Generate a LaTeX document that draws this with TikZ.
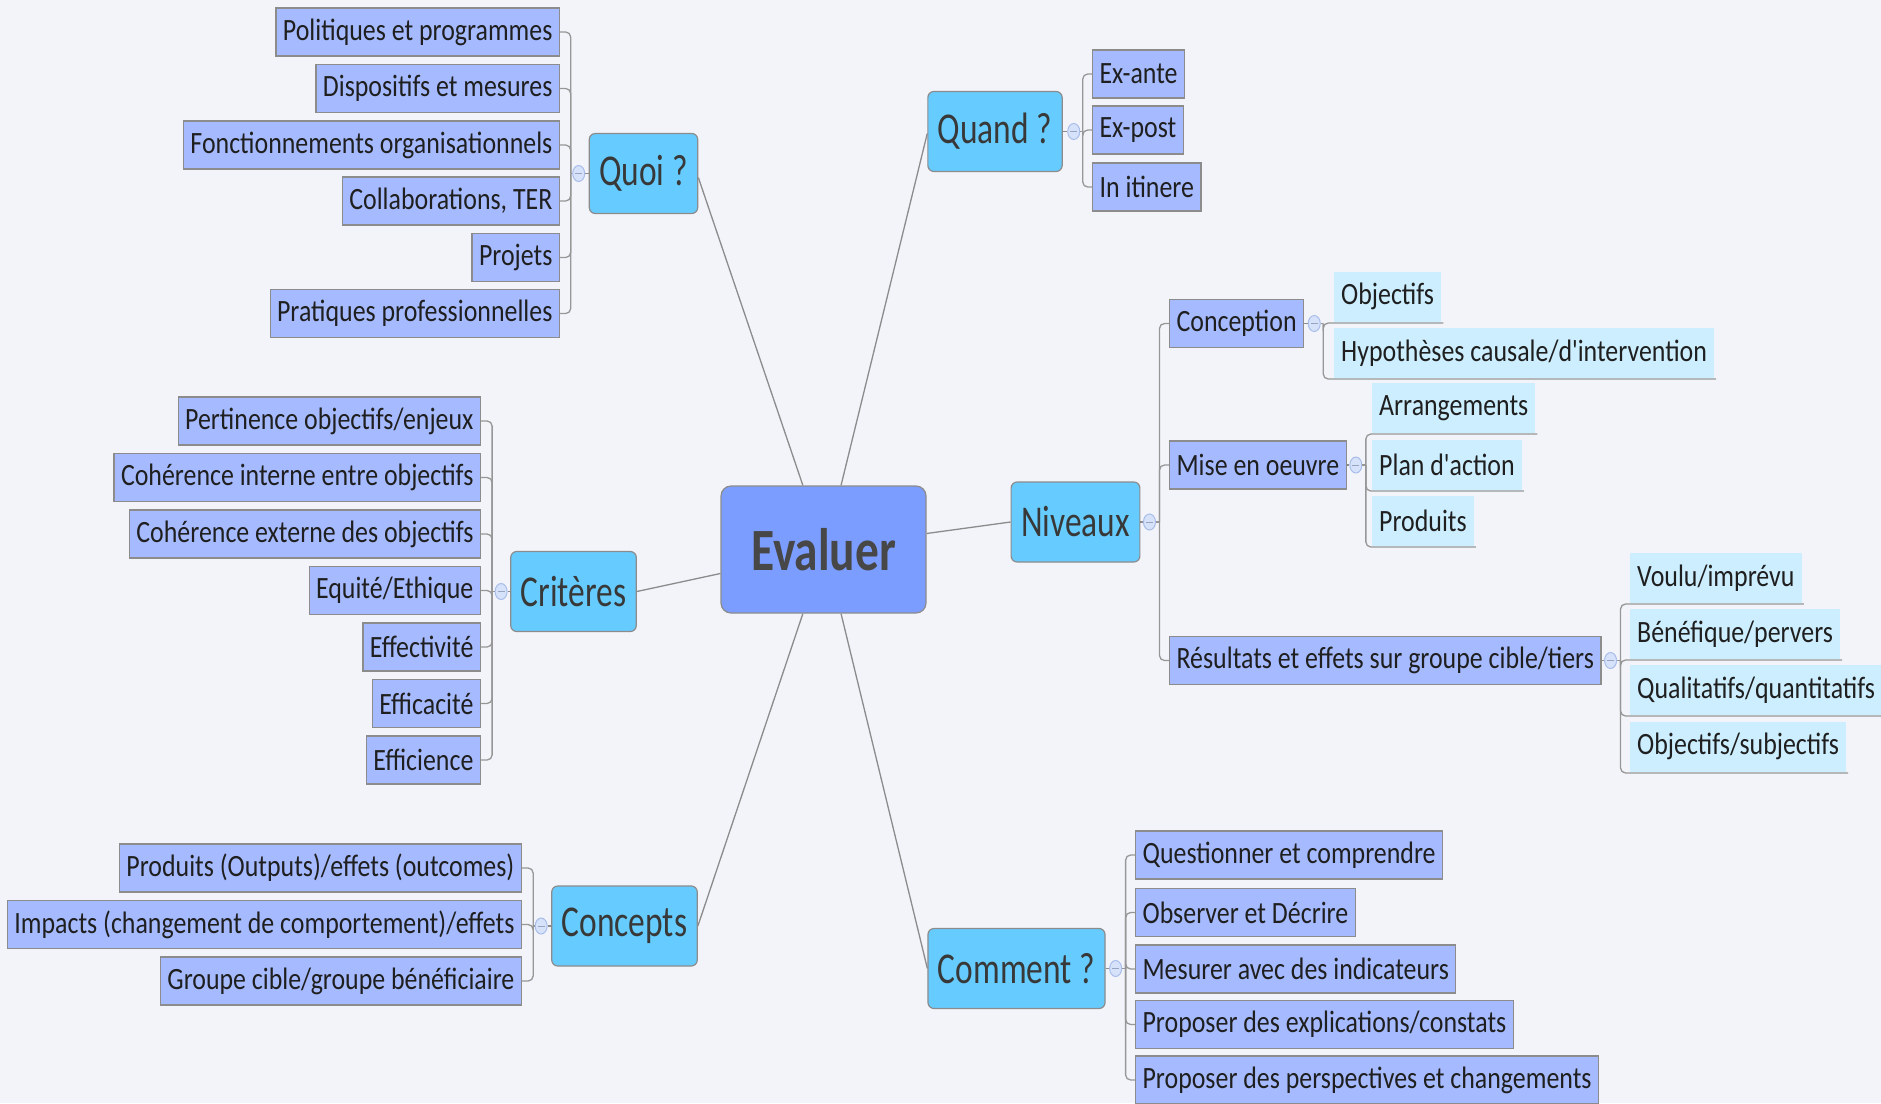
\documentclass[tikz,border=0pt]{standalone}
\usepackage{fontspec}
\setmainfont{Carlito}
\newfontfamily\kidfont[FakeStretch=0.835,Ligatures=TeXOff]{Carlito}
\newfontfamily\topfont[FakeStretch=0.76]{Carlito}
\newfontfamily\evfont[FakeStretch=0.79]{Carlito}
\usetikzlibrary{calc,shapes.geometric}
\definecolor{bg}{HTML}{F2F4F9}
\definecolor{kidfill}{HTML}{A6BBFF}
\definecolor{topfill}{HTML}{66CCFF}
\definecolor{evfill}{HTML}{7B9DFF}
\definecolor{leaffill}{HTML}{CCEEFF}
\definecolor{edgegray}{HTML}{8C8C8C}
\definecolor{dotfill}{HTML}{D6E1FA}
\definecolor{dotline}{HTML}{A9BDEB}
\tikzset{
  kid/.style={draw=edgegray, line width=1.2pt, fill=kidfill, text=black!88,
    font=\kidfont\fontsize{31}{36}\selectfont, inner xsep=7pt, inner ysep=0pt,
    minimum height=48pt},
  leaf/.style={fill=leaffill, text=black!88,
    font=\kidfont\fontsize{31}{36}\selectfont, inner xsep=7pt, inner ysep=0pt,
    minimum height=50pt},
  topbox/.style={draw=edgegray, line width=1.2pt, fill=topfill, rounded corners=6pt,
    text=black!78, font=\topfont\fontsize{44}{50}\selectfont, inner xsep=10pt,
    inner ysep=0pt, minimum height=80pt},
  evbox/.style={draw=edgegray, line width=1.2pt, fill=evfill, rounded corners=10pt,
    text=black!72, font=\evfont\bfseries\fontsize{60}{68}\selectfont,
    minimum width=205pt, minimum height=127pt},
  link/.style={draw=edgegray, line width=1.3pt},
  brk/.style={draw=edgegray!90, line width=1.3pt, rounded corners=5pt},
  dotc/.style={ellipse, draw=dotline, fill=dotfill, line width=1pt,
    minimum width=12pt, minimum height=16pt, inner sep=0pt,
    path picture={\draw[dotline!60!gray, line width=0.9pt]
      ($(path picture bounding box.center)+(-3.5pt,0)$) --
      ($(path picture bounding box.center)+(3.5pt,0)$);}}
}
\begin{document}
\begin{tikzpicture}[x=1pt,y=-1pt]
\useasboundingbox (0,0) rectangle (1881,1103);
\fill[bg] (0,0) rectangle (1881,1103);
\clip (0,0) rectangle (1881,1103);

% central
\node[evbox] (ev) at (823.5,549.5) {Evaluer};

% level 1
\node[topbox, minimum width=107pt] (quoi) at (643.5,173.5) {Quoi ?};
\node[topbox, minimum width=132pt] (quand) at (995,131.5) {Quand ?};
\node[topbox, minimum width=127pt] (niv) at (1075.5,522) {Niveaux};
\node[topbox, minimum width=125pt] (crit) at (573.5,591.5) {Critères};
\node[topbox, minimum width=145pt] (conc) at (624.5,926) {Concepts};
\node[topbox, minimum width=175pt] (comm) at (1016.5,968.5) {Comment ?};

% central links
\draw[link] ($(ev.north west)!0.4!(ev.north east)$) -- ($(quoi.east)+(0,4)$);
\draw[link] ($(ev.north west)!0.585!(ev.north east)$) -- ($(quand.west)+(0,2)$);
\draw[link] ($(ev.east)+(0,-16)$) -- (niv.west);
\draw[link] ($(ev.west)+(0,24)$) -- (crit.east);
\draw[link] ($(ev.south west)!0.4!(ev.south east)$) -- (conc.east);
\draw[link] ($(ev.south west)!0.585!(ev.south east)$) -- (comm.west);

% Quoi children
\node[kid, anchor=east] (q1) at (560,32) {Politiques et programmes};
\node[kid, anchor=east] (q2) at (560,88.5) {Dispositifs et mesures};
\node[kid, anchor=east] (q3) at (560,145) {Fonctionnements organisationnels};
\node[kid, anchor=east] (q4) at (560,201) {Collaborations, TER};
\node[kid, anchor=east] (q5) at (560,257.5) {Projets};
\node[kid, anchor=east] (q6) at (560,313.5) {Pratiques professionnelles};
\node[dotc] (dq) at ($(quoi.west)+(-10,0)$) {};
\coordinate (bq) at ($(quoi.west)+(-18,0)$);
\draw[link] (quoi.west) -- (dq.east);
\draw[brk] (dq.west) -- (bq);
\foreach \c in {q1,q2,q3,q4,q5,q6} \draw[brk] (bq) |- (\c.east);

% Criteres children
\node[kid, anchor=east] (c1) at (481,421) {Pertinence objectifs/enjeux};
\node[kid, anchor=east] (c2) at (481,477.5) {Cohérence interne entre objectifs};
\node[kid, anchor=east] (c3) at (481,534) {Cohérence externe des objectifs};
\node[kid, anchor=east] (c4) at (481,590.5) {Equité/Ethique};
\node[kid, anchor=east] (c5) at (481,647) {Effectivité};
\node[kid, anchor=east] (c6) at (481,703.5) {Efficacité};
\node[kid, anchor=east] (c7) at (481,760) {Efficience};
\node[dotc] (dc) at ($(crit.west)+(-9,0)$) {};
\coordinate (bc) at ($(crit.west)+(-18,0)$);
\draw[link] (crit.west) -- (dc.east);
\draw[brk] (dc.west) -- (bc);
\foreach \c in {c1,c2,c3,c4,c5,c6,c7} \draw[brk] (bc) |- (\c.east);

% Concepts children
\node[kid, anchor=east] (k1) at (522,868) {Produits (Outputs)/effets (outcomes)};
\node[kid, anchor=east] (k2) at (522,924.5) {Impacts (changement de comportement)/effets};
\node[kid, anchor=east] (k3) at (522,981) {Groupe cible/groupe bénéficiaire};
\node[dotc] (dk) at ($(conc.west)+(-10,0)$) {};
\coordinate (bk) at ($(conc.west)+(-18,0)$);
\draw[link] (conc.west) -- (dk.east);
\draw[brk] (dk.west) -- (bk);
\foreach \c in {k1,k2,k3} \draw[brk] (bk) |- (\c.east);

% Quand children
\node[kid, anchor=west] (w1) at (1092,74) {Ex-ante};
\node[kid, anchor=west] (w2) at (1092,130) {Ex-post};
\node[kid, anchor=west] (w3) at (1092,187) {In itinere};
\node[dotc] (dw) at ($(quand.east)+(11,0)$) {};
\coordinate (bw) at ($(quand.east)+(20,0)$);
\draw[link] (quand.east) -- (dw.west);
\draw[brk] (dw.east) -- (bw);
\foreach \c in {w1,w2,w3} \draw[brk] (bw) |- (\c.west);

% Niveaux children
\node[kid, anchor=west] (n1) at (1169,323.5) {Conception};
\node[kid, anchor=west] (n2) at (1169,465) {Mise en oeuvre};
\node[kid, anchor=west] (n3) at (1169,660.5) {Résultats et effets sur groupe cible/tiers};
\node[dotc] (dn) at ($(niv.east)+(9,0)$) {};
\coordinate (bn) at ($(niv.east)+(19,0)$);
\draw[link] (niv.east) -- (dn.west);
\draw[brk] (dn.east) -- (bn);
\foreach \c in {n1,n2,n3} \draw[brk] (bn) |- (\c.west);

% Conception leaves
\node[leaf, anchor=south west] (p1) at (1334,322) {Objectifs};
\node[leaf, anchor=south west] (p2) at (1334,378) {Hypothèses causale/d'intervention};
\node[dotc] (dp) at ($(n1.east)+(10,0)$) {};
\coordinate (bp) at ($(n1.east)+(19,0)$);
\draw[link] (n1.east) -- (dp.west);
\draw[brk] (dp.east) -- (bp);
\foreach \c in {p1,p2} \draw[brk] (bp) |- ($(\c.south east)+(2,1)$);

% Mise en oeuvre leaves
\node[leaf, anchor=south west] (m1) at (1372,433) {Arrangements};
\node[leaf, anchor=south west] (m2) at (1372,490) {Plan d'action};
\node[leaf, anchor=south west] (m3) at (1372,546) {Produits};
\node[dotc] (dm) at ($(n2.east)+(9,0)$) {};
\coordinate (bm) at ($(n2.east)+(19,0)$);
\draw[link] (n2.east) -- (dm.west);
\draw[brk] (dm.east) -- (bm);
\foreach \c in {m1,m2,m3} \draw[brk] (bm) |- ($(\c.south east)+(2,1)$);

% Resultats leaves
\node[leaf, anchor=south west] (r1) at (1630,603) {Voulu/imprévu};
\node[leaf, anchor=south west] (r2) at (1630,659) {Bénéfique/pervers};
\node[leaf, anchor=south west] (r3) at (1630,715) {Qualitatifs/quantitatifs};
\node[leaf, anchor=south west] (r4) at (1630,772) {Objectifs/subjectifs};
\node[dotc] (dr) at ($(n3.east)+(9,0)$) {};
\coordinate (br) at ($(n3.east)+(19,0)$);
\draw[link] (n3.east) -- (dr.west);
\draw[brk] (dr.east) -- (br);
\foreach \c in {r1,r2,r3,r4} \draw[brk] (br) |- ($(\c.south east)+(2,1)$);

% Comment children
\node[kid, anchor=west] (h1) at (1135,855) {Questionner et comprendre};
\node[kid, anchor=west] (h2) at (1135,912.5) {Observer et Décrire};
\node[kid, anchor=west] (h3) at (1135,969) {Mesurer avec des indicateurs};
\node[kid, anchor=west] (h4) at (1135,1024.5) {Proposer des explications/constats};
\node[kid, anchor=west] (h5) at (1135,1080) {Proposer des perspectives et changements};
\node[dotc] (dh) at ($(comm.east)+(10,0)$) {};
\coordinate (bh) at ($(comm.east)+(20,0)$);
\draw[link] (comm.east) -- (dh.west);
\draw[brk] (dh.east) -- (bh);
\foreach \c in {h1,h2,h3,h4,h5} \draw[brk] (bh) |- (\c.west);
\end{tikzpicture}
\end{document}
